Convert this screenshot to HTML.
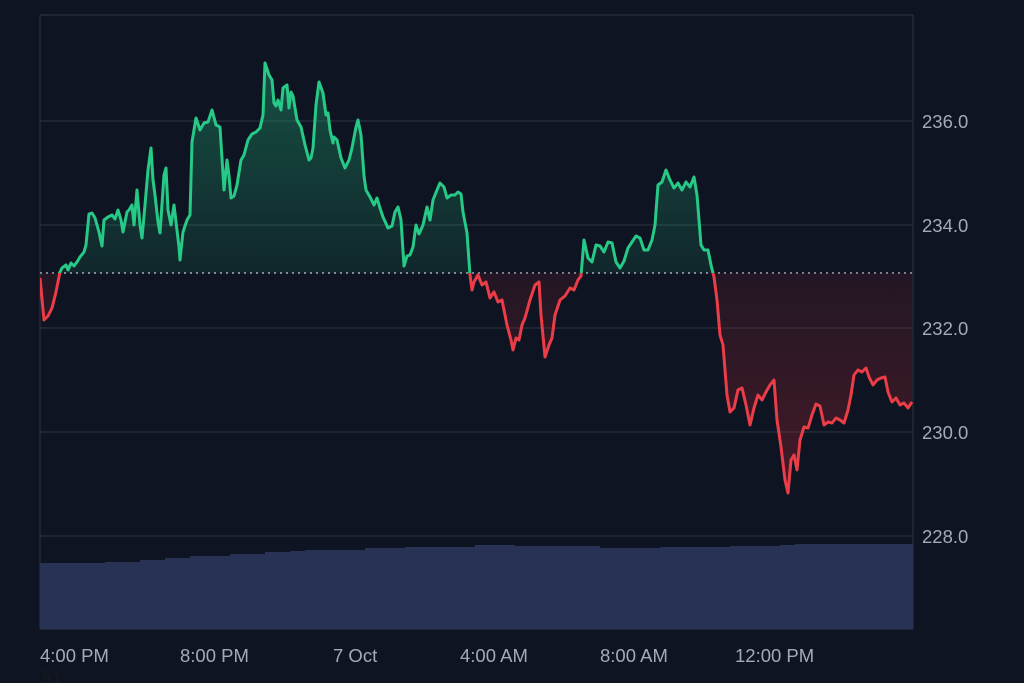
<!DOCTYPE html>
<html><head><meta charset="utf-8"><style>
html,body{margin:0;padding:0;background:#0e1421;}
svg{display:block}
text{font-family:"Liberation Sans",sans-serif;}
</style></head><body>
<svg width="1024" height="683" viewBox="0 0 1024 683" xmlns="http://www.w3.org/2000/svg">
<defs>
<linearGradient id="gg" x1="0" y1="60" x2="0" y2="273" gradientUnits="userSpaceOnUse">
<stop offset="0" stop-color="#1f8f66" stop-opacity="0.5"/><stop offset="1" stop-color="#1f8f66" stop-opacity="0.15"/></linearGradient>
<linearGradient id="rg" x1="0" y1="273" x2="0" y2="495" gradientUnits="userSpaceOnUse">
<stop offset="0" stop-color="#7a2030" stop-opacity="0.2"/><stop offset="1" stop-color="#8a2232" stop-opacity="0.45"/></linearGradient>
<clipPath id="above"><rect x="40" y="0" width="874" height="273"/></clipPath>
<clipPath id="below"><rect x="40" y="273" width="874" height="400"/></clipPath>
</defs>
<rect width="1024" height="683" fill="#0e1421"/>
<g stroke="#283040" stroke-width="1.2">
<line x1="40" y1="15" x2="913" y2="15"/>
<line x1="40" y1="121" x2="913" y2="121"/>
<line x1="40" y1="225" x2="913" y2="225"/>
<line x1="40" y1="328" x2="913" y2="328"/>
<line x1="40" y1="432" x2="913" y2="432"/>
<line x1="40" y1="536" x2="913" y2="536"/>
<line x1="40" y1="15" x2="40" y2="629"/>
<line x1="913" y1="15" x2="913" y2="629"/>
<line x1="40" y1="629" x2="913" y2="629"/>
</g>
<path d="M40,563 H105 V562 H140 V560 H165 V558 H190 V556 H230 V554 H265 V552 H290 V551 H305 V550 H365 V548 H405 V547 H475 V545 H515 V546 H600 V548 H660 V547 H730 V546 H780 V545 H795 V544 H913 V629 H40 Z" fill="#283254"/>
<polyline id="p" fill="none" points="40,278 44,320 48,316 52,308 56,292 60,272 62,268 66,265 68,270 71,263 74,266 77,262 80,257 84,252 86,245 89,214 92,213 95,218 99,232 102,246 104,220 108,217 112,215 115,219 118,210 121,220 123,232 127,212 129,210 132,205 134,225 137,190 140,225 142,238 145,205 148,170 151,148 153,180 155,195 158,222 160,233 164,175 166,168 168,210 171,225 174,205 179,247 180,260 183,232 187,220 190,215 192,142 196,118 200,130 204,123 208,122 212,110 216,125 220,127 224,190 227,160 229,176 231,198 234,196 237,185 241,160 244,155 248,140 252,134 256,132 260,128 263,115 265,63 269,75 272,80 274,103 276,106 278,100 281,110 283,88 287,85 289,108 291,92 293,96 297,120 301,127 305,145 309,160 311,158 313,148 316,105 319,82 323,93 326,115 328,113 330,130 333,143 334,137 337,140 341,158 345,168 349,160 352,148 356,127 358,120 361,135 364,176 366,190 370,197 374,205 377,198 380,208 383,217 388,228 392,226 395,212 398,207 401,220 404,266 407,256 410,255 413,247 416,225 419,234 423,225 427,207 430,220 433,200 437,190 440,183 444,187 447,198 451,195 455,195 458,192 461,194 463,212 467,233 470,275 472,290 474,282 478,275 482,285 486,282 490,298 494,292 498,302 502,300 507,325 511,340 513,350 516,338 519,340 522,325 525,318 530,300 535,285 539,282 541,315 545,357 549,345 552,338 555,315 560,300 565,296 570,288 574,290 578,280 581,276 584,240 588,258 592,262 596,245 600,246 604,252 608,242 612,243 616,262 620,268 624,261 628,248 632,242 636,236 640,238 644,250 648,250 652,240 655,225 658,185 662,182 666,170 670,180 674,188 678,183 682,190 686,182 690,187 694,177 697,195 701,245 704,250 708,250 711,265 714,277 717,300 720,335 723,345 727,395 730,412 734,408 738,390 742,388 746,405 750,425 754,408 758,395 762,400 766,392 770,385 774,380 777,420 781,447 785,480 788,493 791,460 794,455 797,470 800,440 804,427 808,428 812,415 816,404 820,406 824,425 828,422 832,423 836,418 840,420 844,423 848,410 851,395 854,375 858,370 862,372 866,368 869,377 873,385 877,380 881,378 885,377 888,392 892,402 896,398 900,405 904,403 908,408 912,402"/>
<g clip-path="url(#above)">
<path id="fa" fill="url(#gg)" d=""/>
</g>
<line x1="40" y1="273" x2="913" y2="273" stroke="#c8ccd4" stroke-width="1.3" stroke-dasharray="2,4"/>
<g clip-path="url(#above)"><use href="#p" stroke="#27c987" stroke-width="3" stroke-linejoin="round"/></g>
<g clip-path="url(#below)"><path id="fb" fill="url(#rg)" d=""/><use href="#p" stroke="#ea3d47" stroke-width="3" stroke-linejoin="round"/></g>
<g fill="#a3abba" font-size="18.5">
<text x="922" y="128">236.0</text>
<text x="922" y="232">234.0</text>
<text x="922" y="335">232.0</text>
<text x="922" y="439">230.0</text>
<text x="922" y="543">228.0</text>
<text x="40" y="662">4:00 PM</text>
<text x="180" y="662">8:00 PM</text>
<text x="333" y="662">7 Oct</text>
<text x="460" y="662">4:00 AM</text>
<text x="600" y="662">8:00 AM</text>
<text x="735" y="662">12:00 PM</text>
</g>
<text x="42" y="684" fill="#1a1a1a" font-size="18">51</text>
<script>
var pts=document.getElementById('p').getAttribute('points');
var d='M40,273 L'+pts.trim().split(/\s+/).join(' L')+' L912,273 Z';
document.getElementById('fa').setAttribute('d',d);
document.getElementById('fb').setAttribute('d',d);
</script>
</svg>
</body></html>
